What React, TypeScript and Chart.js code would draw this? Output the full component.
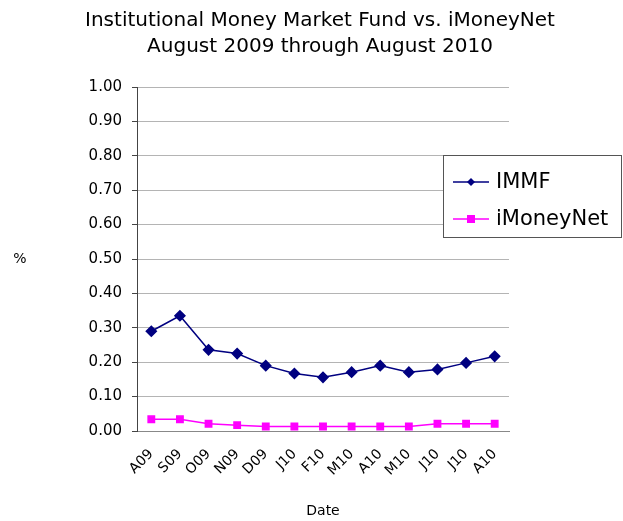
import React, { useEffect, useRef } from "react";
import { Chart, registerables } from "chart.js";

Chart.register(...registerables);

const categories = ["A09", "S09", "O09", "N09", "D09", "J10", "F10", "M10", "A10", "M10", "J10", "J10", "A10"];
const immf = [0.29, 0.335, 0.236, 0.225, 0.19, 0.167, 0.156, 0.171, 0.19, 0.171, 0.179, 0.198, 0.217];
const imoneynet = [0.034, 0.034, 0.021, 0.017, 0.013, 0.013, 0.013, 0.013, 0.013, 0.013, 0.021, 0.021, 0.021];
const titleLines = ["Institutional Money Market Fund vs. iMoneyNet", "August 2009 through August 2010"];
const seriesNames = ["IMMF", "iMoneyNet"];
const seriesColors = ["#000080", "#FF00FF"];
const FONT = "'DejaVu Sans', sans-serif";

const decorPlugin = {
  id: "decor",
  afterDraw(chart: any) {
    const ctx = chart.ctx as CanvasRenderingContext2D;
    const area = chart.chartArea;
    ctx.save();
    // title
    ctx.fillStyle = "#000";
    ctx.font = `20px ${FONT}`;
    ctx.textAlign = "center";
    ctx.textBaseline = "middle";
    ctx.fillText(titleLines[0], 320, 21);
    ctx.fillText(titleLines[1], 320, 47);
    // axis titles
    ctx.font = `14px ${FONT}`;
    ctx.fillText("%", 20, 259);
    ctx.fillText("Date", (area.left + area.right) / 2, 511);
    // legend
    const lx = 443, ly = 155, lw = 179, lh = 83;
    ctx.fillStyle = "#fff";
    ctx.fillRect(lx, ly, lw, lh);
    ctx.strokeStyle = "#555";
    ctx.lineWidth = 1;
    ctx.strokeRect(lx + 0.5, ly + 0.5, lw - 1, lh - 1);
    const rows = [182, 219];
    rows.forEach((y, i) => {
      ctx.strokeStyle = seriesColors[i];
      ctx.lineWidth = 1.5;
      ctx.beginPath();
      ctx.moveTo(453, y);
      ctx.lineTo(489, y);
      ctx.stroke();
      ctx.fillStyle = seriesColors[i];
      if (i === 0) {
        ctx.beginPath();
        ctx.moveTo(471, y - 4);
        ctx.lineTo(475, y);
        ctx.lineTo(471, y + 4);
        ctx.lineTo(467, y);
        ctx.closePath();
        ctx.fill();
      } else {
        ctx.fillRect(467, y - 4, 8, 8);
      }
      ctx.fillStyle = "#000";
      ctx.font = `21px ${FONT}`;
      ctx.textAlign = "left";
      ctx.fillText(seriesNames[i], 496, y + 1);
    });
    ctx.restore();
  },
};

export default function App() {
  const ref = useRef<HTMLCanvasElement>(null);
  useEffect(() => {
    if (!ref.current) return;
    const chart = new Chart(ref.current, {
      type: "line",
      data: {
        labels: categories,
        datasets: [
          {
            label: seriesNames[0],
            data: immf,
            borderColor: seriesColors[0],
            backgroundColor: seriesColors[0],
            borderWidth: 1.5,
            pointStyle: "rectRot",
            pointRadius: 5,
            pointHoverRadius: 5,
            tension: 0,
          },
          {
            label: seriesNames[1],
            data: imoneynet,
            borderColor: seriesColors[1],
            backgroundColor: seriesColors[1],
            borderWidth: 1.5,
            pointStyle: "rect",
            pointRadius: 4.5,
            pointHoverRadius: 4.5,
            tension: 0,
          },
        ],
      },
      options: {
        animation: false,
        responsive: false,
        maintainAspectRatio: false,
        layout: { padding: { left: 77, right: 114, top: 87, bottom: 40 } },
        plugins: {
          legend: { display: false },
          title: { display: false },
          tooltip: { enabled: false },
        },
        scales: {
          x: {
            offset: true,
            grid: { display: false, drawTicks: false },
            border: { display: true, color: "#888", width: 1 },
            ticks: {
              minRotation: 45,
              maxRotation: 45,
              color: "#000",
              font: { family: FONT, size: 14 },
              padding: 15,
            },
            afterFit(scale: any) {
              scale.height = 50;
            },
          },
          y: {
            min: 0,
            max: 1,
            grid: { color: "#b4b4b4", tickLength: 5, tickColor: "#444" },
            border: { display: true, color: "#444", width: 1 },
            ticks: {
              stepSize: 0.1,
              color: "#000",
              font: { family: FONT, size: 15 },
              padding: 10,
              callback: (v: any) => Number(v).toFixed(2),
            },
            afterFit(scale: any) {
              scale.width = 60;
            },
          },
        },
      },
      plugins: [decorPlugin],
    });
    return () => chart.destroy();
  }, []);
  return (
    <div style={{ position: "absolute", left: 0, top: 0, width: 623, height: 521, background: "#fff" }}>
      <canvas ref={ref} width={623} height={521} style={{ width: 623, height: 521 }} />
    </div>
  );
}
